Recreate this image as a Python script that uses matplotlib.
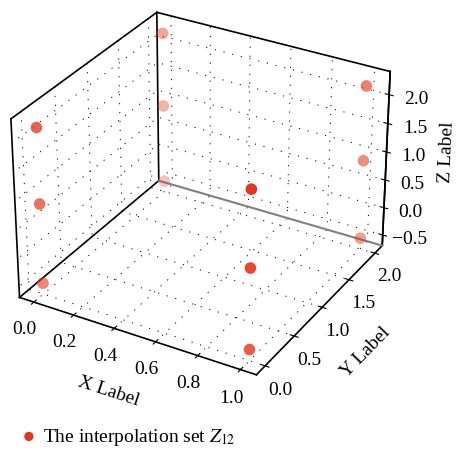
import matplotlib
matplotlib.use("Agg")
import matplotlib.pyplot as plt
import numpy as np

plt.rcParams['font.family'] = ['Liberation Serif', 'DejaVu Serif']
plt.rcParams['mathtext.fontset'] = 'stix'

# data: 12 interpolation points (corners of the domain, three z-levels each)
xs = [0, 0, 0, 1, 1, 1, 0, 0, 0, 1, 1, 1]
ys = [0, 0, 0, 0, 0, 0, 2, 2, 2, 2, 2, 2]
zs = [-0.5, 0.9, 2.2, -0.5, 0.9, 2.2, -0.5, 0.9, 2.2, -0.5, 0.9, 2.2]

x_ticks = [0.0, 0.2, 0.4, 0.6, 0.8, 1.0]
y_ticks = [0.0, 0.5, 1.0, 1.5, 2.0]
z_ticks = [-0.5, 0.0, 0.5, 1.0, 1.5, 2.0]

legend_label = r'The interpolation set $Z_{12}$'
point_color = '#e4361c'

fig = plt.figure(figsize=(4.59, 4.51), dpi=100)
ax = fig.add_axes([-0.035, 0.11, 0.935, 0.935], projection='3d')

ax.scatter(xs, ys, zs, color=point_color, s=70, depthshade=True,
           label=legend_label, edgecolors='none')

for axis in (ax.xaxis, ax.yaxis, ax.zaxis):
    axis.set_pane_color((1, 1, 1, 0))
    axis.line.set_color('black')
    axis.line.set_linewidth(1.2)
    axis._axinfo['grid'].update(color='black', linewidth=0.7,
                                linestyle=(0, (1.2, 8)))
    axis._axinfo['tick']['inward_factor'] = 0.2
    axis._axinfo['tick']['outward_factor'] = 0.2

ax.set_xticks(x_ticks)
ax.set_yticks(y_ticks)
ax.set_zticks(z_ticks)
ax.tick_params(labelsize=14, pad=2)
ax.tick_params(axis='z', pad=4)

ax.set_xlabel('X Label', fontsize=14, labelpad=8)
ax.set_ylabel('Y Label', fontsize=14, labelpad=8)
ax.set_zlabel('Z Label', fontsize=14, labelpad=6)

# box edges of the back panes, derived from the axis limits
xl = ax.get_xlim(); yl = ax.get_ylim(); zl = ax.get_zlim()
edge_kw = dict(color='black', lw=1.2)
ax.plot([xl[0], xl[0]], [yl[0], yl[0]], [zl[0], zl[1]], **edge_kw)
ax.plot([xl[0], xl[0]], [yl[1], yl[1]], [zl[0], zl[1]], **edge_kw)
ax.plot([xl[1], xl[1]], [yl[1], yl[1]], [zl[0], zl[1]], **edge_kw)
ax.plot([xl[0], xl[0]], [yl[0], yl[1]], [zl[1], zl[1]], **edge_kw)
ax.plot([xl[0], xl[1]], [yl[1], yl[1]], [zl[1], zl[1]], **edge_kw)
ax.plot([xl[0], xl[0]], [yl[0], yl[1]], [zl[0], zl[0]], **edge_kw)
ax.plot([xl[0], xl[1]], [yl[1], yl[1]], [zl[0], zl[0]], color='gray', lw=1.5)
ax.set_xlim(xl); ax.set_ylim(yl); ax.set_zlim(zl)

leg = fig.legend(loc='center left', bbox_to_anchor=(0.046, 0.031), frameon=False,
                 fontsize=14, handletextpad=0.3, handlelength=0.8,
                 borderpad=0, borderaxespad=0, markerscale=0.8)

fig.savefig('out.png', dpi=100)
